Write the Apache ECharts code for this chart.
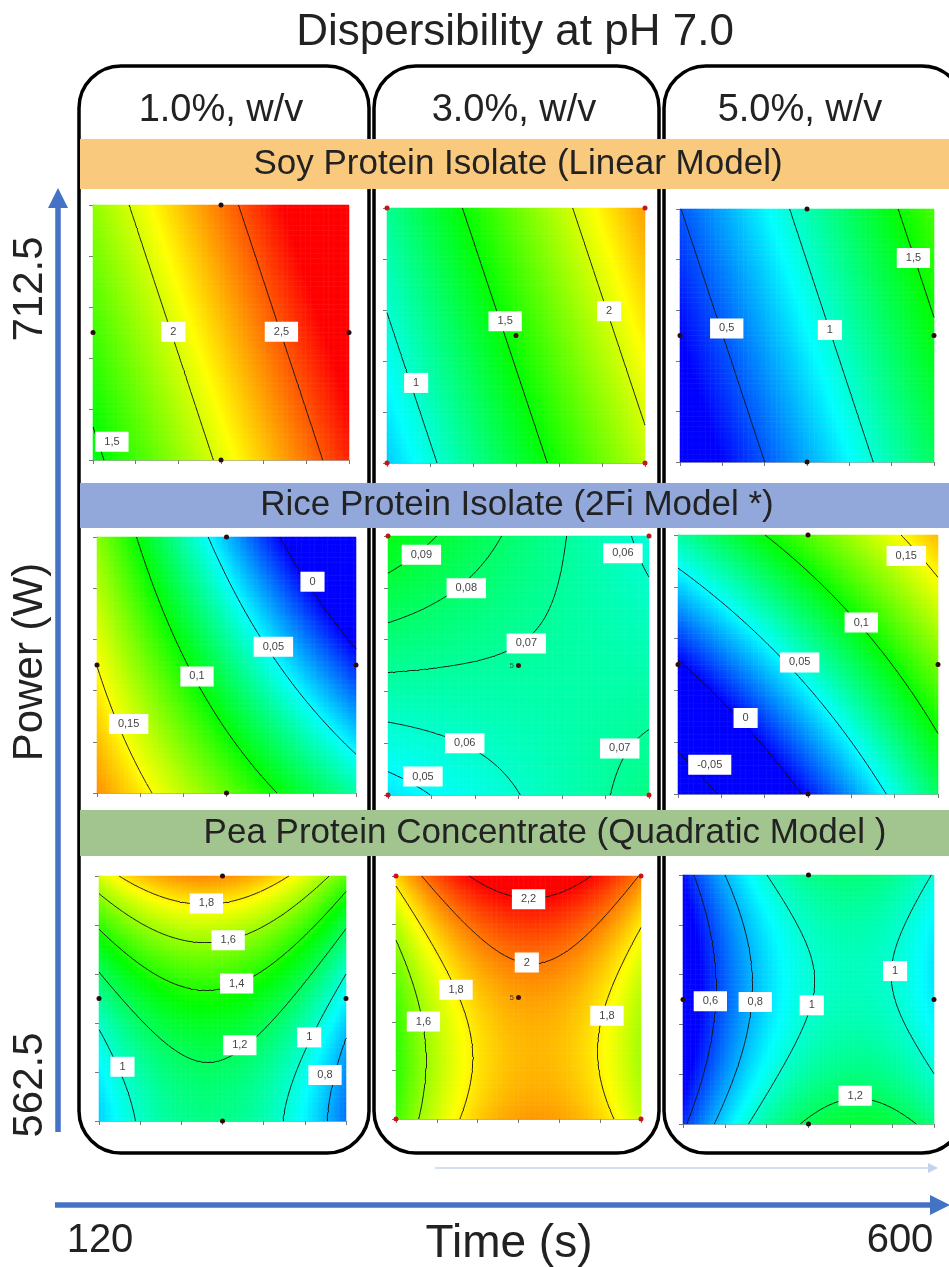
<!DOCTYPE html>
<html><head><meta charset="utf-8">
<script src="https://cdn.jsdelivr.net/npm/echarts@6/dist/echarts.min.js"></script>
<style>html,body{margin:0;padding:0;background:#fff}#c{width:949px;height:1267px}</style>
</head><body><div id="c"></div>
<script>
// ---------------- DATA ----------------
const chartTitle = 'Dispersibility at pH 7.0';
const concentrations = ['1.0%, w/v', '3.0%, w/v', '5.0%, w/v'];
const proteins = ['Soy Protein Isolate (Linear Model)', 'Rice Protein Isolate (2Fi Model *)', 'Pea Protein Concentrate (Quadratic Model )'];
const timeRange = [120, 600];      // s
const powerRange = [562.5, 712.5]; // W
const timeEndLabels = ['120', '600'];
const powerEndLabels = ['562.5', '712.5'];
const xTitle = 'Time (s)';
const yTitle = 'Power (W)';

// fitted model coefficients in coded units (A = time, B = power, both -1..1)
// [b0, A, B, AB, A^2, B^2]
const soy1 = [2.2275, 0.585, 0.1925, 0, 0, 0];
const soy3 = [1.5505, 0.585, 0.1925, 0, 0, 0];
const soy5 = [0.8875, 0.585, 0.1925, 0, 0, 0];
const rice1 = [0.0787, -0.0711, -0.0415, -0.0193, 0, 0];
const rice3 = [0.0686, -0.0028, 0.0088, -0.0173, 0, 0];
const rice5 = [0.0598, 0.0623, 0.0560, -0.0145, 0, 0];
const pea1 = [1.365, -0.093, 0.419, -0.015, -0.360, 0.178];
const pea3 = [1.932, 0.0915, 0.175, -0.0205, -0.373, 0.182];
const pea5 = [0.992, 0.2615, -0.0515, -0.0265, -0.363, 0.177];

// contour levels
const soy1Levels = [1.5, 2, 2.5];
const soy3Levels = [1, 1.5, 2];
const soy5Levels = [0.5, 1, 1.5];
const rice1Levels = [0, 0.05, 0.1, 0.15];
const rice3Levels = [0.05, 0.06, 0.07, 0.08, 0.09];
const rice5Levels = [-0.05, 0, 0.05, 0.1, 0.15];
const pea1Levels = [0.8, 1, 1.2, 1.4, 1.6, 1.8];
const pea3Levels = [1.6, 1.8, 2, 2.2];
const pea5Levels = [0.6, 0.8, 1, 1.2];

// contour labels: [time s, power W, text]
const soy1Labels = [[270.7, 637.9, '2'], [473.3, 637.9, '2,5'], [155.5, 573.3, '1,5']];
const soy3Labels = [[174.2, 609.6, '1'], [339.8, 645.9, '1,5'], [533.3, 651.8, '2']];
const soy5Labels = [[208.3, 641.7, '0,5'], [403.2, 640.8, '1'], [561.1, 683.4, '1,5']];
const rice1Labels = [[519.4, 686.3, '0'], [446.9, 648.2, '0,05'], [305.3, 630.8, '0,1'], [178.6, 602.9, '0,15']];
const rice3Labels = [[181.4, 701.6, '0,09'], [264.0, 682.2, '0,08'], [374.4, 650.3, '0,07'], [552.0, 702.5, '0,06'], [261.1, 592.4, '0,06'], [546.2, 589.5, '0,07'], [184.3, 573.2, '0,05']];
const rice5Labels = [[541.4, 700.4, '0,15'], [458.4, 661.8, '0,1'], [344.6, 638.7, '0,05'], [244.8, 606.5, '0'], [178.6, 579.5, '-0,05']];
const pea1Labels = [[328.8, 695.7, '1,8'], [371.0, 673.2, '1,6'], [387.4, 646.7, '1,4'], [393.6, 608.9, '1,2'], [165.6, 595.7, '1'], [528.5, 613.7, '1'], [559.2, 590.6, '0,8']];
const pea3Labels = [[379.7, 698.1, '2,2'], [376.3, 659.1, '2'], [237.6, 642.3, '1,8'], [173.8, 622.7, '1,6'], [533.3, 626.3, '1,8']];
const pea5Labels = [[172.3, 636.5, '0,6'], [258.2, 636.0, '0,8'], [366.2, 634.0, '1'], [525.6, 654.6, '1'], [449.3, 579.5, '1,2']];

// design points
const edgePoints = [[360, 712.5], [120, 637.5], [600, 637.5], [360, 562.5]];
const cornerPoints = [[120, 562.5], [120, 712.5], [600, 562.5], [600, 712.5]];
const centerPoint = [[360, 637.5]];
const centerReplicates = '5';

// colour scale ranges per protein row
const soyColorRange = [0.3, 2.7];
const riceColorRange = [0, 0.2];
const peaColorRange = [0.5, 2.2];
const colorScale = ['#0000ff', '#00ffff', '#00ff00', '#ffff00', '#ff0000'];

// ---------------- LAYOUT / BUILD ----------------
const FONT = 'Liberation Sans, Arial, sans-serif';
const panels = [
  {m: soy1, lv: soy1Levels, lb: soy1Labels, col: 0}, {m: soy3, lv: soy3Levels, lb: soy3Labels, col: 1}, {m: soy5, lv: soy5Levels, lb: soy5Labels, col: 2},
  {m: rice1, lv: rice1Levels, lb: rice1Labels, col: 0}, {m: rice3, lv: rice3Levels, lb: rice3Labels, col: 1, five: true}, {m: rice5, lv: rice5Levels, lb: rice5Labels, col: 2},
  {m: pea1, lv: pea1Levels, lb: pea1Labels, col: 0}, {m: pea3, lv: pea3Levels, lb: pea3Labels, col: 1, five: true}, {m: pea5, lv: pea5Levels, lb: pea5Labels, col: 2}
];
const rects = [[93,205,256,255],[387,208,258,255],[680,209,254,253],
               [97,537,259,256],[388,536,261,259],[678,535,260,259],
               [99,876,247,245],[396,876,245,243],[683,875,251,249]];
const N = 100;  // heat cells per side
const M = 110;  // contour grid per side
const tSpan = timeRange[1] - timeRange[0];
const pSpan = powerRange[1] - powerRange[0];
function model(c, A, B) { return c[0] + c[1]*A + c[2]*B + c[3]*A*B + c[4]*A*A + c[5]*B*B; }
const toXY = (t, p) => [t - timeRange[0], p - powerRange[0]];

function contourSegments(c, L) {
  const vals = [];
  for (let j = 0; j <= M; j++) { const row = []; for (let i = 0; i <= M; i++) row.push(model(c, -1 + 2*i/M, -1 + 2*j/M)); vals.push(row); }
  const segs = [];
  const px = i => tSpan * i / M, py = j => pSpan * j / M;
  for (let j = 0; j < M; j++) for (let i = 0; i < M; i++) {
    const v0 = vals[j][i], v1 = vals[j][i+1], v2 = vals[j+1][i+1], v3 = vals[j+1][i];
    const corners = [[i,j,v0],[i+1,j,v1],[i+1,j+1,v2],[i,j+1,v3]];
    const pts = [];
    for (let e = 0; e < 4; e++) {
      const a = corners[e], b = corners[(e+1)%4];
      if ((a[2] > L) !== (b[2] > L)) {
        const f = (L - a[2]) / (b[2] - a[2]);
        pts.push([px(a[0] + f*(b[0]-a[0])), py(a[1] + f*(b[1]-a[1]))]);
      } else pts.push(null);
    }
    const idx = [0,1,2,3].filter(e => pts[e]);
    if (idx.length === 2) segs.push({coords: [pts[idx[0]], pts[idx[1]]]});
    else if (idx.length === 4) {
      const cen = (v0+v1+v2+v3)/4;
      if ((cen > L) === (v0 > L)) { segs.push({coords:[pts[0],pts[1]]}); segs.push({coords:[pts[2],pts[3]]}); }
      else { segs.push({coords:[pts[3],pts[0]]}); segs.push({coords:[pts[1],pts[2]]}); }
    }
  }
  return segs;
}

const grids = [], xAxes = [], yAxes = [], heatSeries = [], otherSeries = [];
const cats = Array.from({length: N}, (_, i) => i);
panels.forEach((p, k) => {
  const [l, t, w, h] = rects[k];
  grids.push({left: l, top: t, width: w, height: h});
  xAxes.push({gridIndex: k, type: 'value', min: 0, max: tSpan, interval: tSpan/6,
    axisLabel: {show: false}, splitLine: {show: false},
    axisTick: {show: true, length: 4, lineStyle: {color: '#777'}},
    axisLine: {show: true, lineStyle: {color: '#aaa', width: 1}}});
  yAxes.push({gridIndex: k, type: 'value', min: 0, max: pSpan, interval: pSpan/5,
    axisLabel: {show: false}, splitLine: {show: false},
    axisTick: {show: true, length: 4, lineStyle: {color: '#777'}},
    axisLine: {show: true, lineStyle: {color: '#aaa', width: 1}}});
});
panels.forEach((p, k) => {
  const [l, t, w, h] = rects[k];
  grids.push({left: l, top: t, width: w, height: h});
  xAxes.push({gridIndex: 9 + k, type: 'category', data: cats, show: false});
  yAxes.push({gridIndex: 9 + k, type: 'category', data: cats, show: false});
  const hm = [];
  for (let j = 0; j < N; j++) for (let i = 0; i < N; i++)
    hm.push([i, j, model(p.m, 2*(i+0.5)/N - 1, 2*(j+0.5)/N - 1)]);
  heatSeries.push({type: 'heatmap', xAxisIndex: 9 + k, yAxisIndex: 9 + k, data: hm, progressive: 0,
    silent: true, itemStyle: {borderWidth: 0}, emphasis: {disabled: true}, z: 1});
});
panels.forEach((p, k) => {
  let segs = [];
  p.lv.forEach(L => { segs = segs.concat(contourSegments(p.m, L)); });
  otherSeries.push({type: 'lines', coordinateSystem: 'cartesian2d', xAxisIndex: k, yAxisIndex: k,
    data: segs, silent: true, z: 3, lineStyle: {color: '#141414', width: 1, opacity: 0.95, curveness: 0}});
  const pts = p.col === 1 ? cornerPoints.map(q => ({value: toXY(q[0], q[1]), itemStyle: {color: '#c81414'}}))
                            .concat(centerPoint.map(q => ({value: toXY(q[0], q[1]), itemStyle: {color: '#3a1010'}})))
                          : edgePoints.map(q => ({value: toXY(q[0], q[1]), itemStyle: {color: '#2a0c0c'}}));
  otherSeries.push({type: 'scatter', xAxisIndex: k, yAxisIndex: k, data: pts, symbolSize: 5, silent: true, z: 4, clip: false,
    itemStyle: {opacity: 1}});
  if (p.five) {
    otherSeries.push({type: 'scatter', xAxisIndex: k, yAxisIndex: k, silent: true, z: 4,
      data: centerPoint.map(q => ({value: toXY(q[0], q[1]), name: centerReplicates})), symbolSize: 1,
      itemStyle: {color: '#3a1010', opacity: 1},
      label: {show: true, position: 'left', distance: 4, formatter: '{b}', fontSize: 8, color: '#444', fontFamily: FONT}});
  }
  otherSeries.push({type: 'scatter', xAxisIndex: k, yAxisIndex: k, silent: true, z: 5, symbol: 'rect', symbolSize: 1,
    itemStyle: {color: '#ffffff', opacity: 1},
    data: p.lb.map(q => ({value: toXY(q[0], q[1]), name: q[2]})),
    label: {show: true, position: 'inside', formatter: '{b}', backgroundColor: '#ffffff', padding: [5, 9, 4, 9],
      fontSize: 11, color: '#444', fontFamily: FONT}});
});

const visualMaps = [soyColorRange, riceColorRange, peaColorRange].map((r, row) => ({
  type: 'continuous', show: false, min: r[0], max: r[1], dimension: 2,
  seriesIndex: [row*3, row*3 + 1, row*3 + 2], inRange: {color: colorScale}
}));

const blue = '#4472c4';
const graphics = [];
[[79,66,290,1087],[374,66,285,1087],[664,66,300,1087]].forEach(([x, y, w, h]) => graphics.push(
  {type: 'rect', shape: {x: x, y: y, width: w, height: h, r: 42}, style: {fill: 'none', stroke: '#000', lineWidth: 3.5}, z: 0, silent: true}));
const bands = [[139, 50, '#f9c97e', 164, 518], [483, 45, '#93a8da', 505, 517], [810, 46, '#a2c48f', 833, 545]];
bands.forEach((b, i) => {
  graphics.push({type: 'rect', shape: {x: 80, y: b[0], width: 880, height: b[1]}, style: {fill: b[2]}, z: 1, silent: true});
  graphics.push({type: 'text', x: b[4], y: b[3], style: {text: proteins[i], fontSize: 35, fontFamily: FONT, fill: '#222', align: 'center', verticalAlign: 'middle'}, z: 2, silent: true});
});
graphics.push({type: 'text', x: 515, y: 33, style: {text: chartTitle, fontSize: 44, fontFamily: FONT, fill: '#222', align: 'center', verticalAlign: 'middle'}, z: 2});
[221, 514, 800].forEach((cx, i) => graphics.push({type: 'text', x: cx, y: 111, style: {text: concentrations[i], fontSize: 38, fontFamily: FONT, fill: '#222', align: 'center', verticalAlign: 'middle'}, z: 2}));
// axes arrows
graphics.push({type: 'line', shape: {x1: 55, y1: 1205, x2: 935, y2: 1205}, style: {stroke: blue, lineWidth: 5.5}, z: 1});
graphics.push({type: 'polygon', shape: {points: [[930, 1195], [950, 1205], [930, 1215]]}, style: {fill: blue}, z: 1});
graphics.push({type: 'line', shape: {x1: 435, y1: 1168, x2: 930, y2: 1168}, style: {stroke: '#d6dff1', lineWidth: 2}, z: 1});
graphics.push({type: 'polygon', shape: {points: [[928, 1163], [938, 1168], [928, 1173]]}, style: {fill: '#c5d2ee'}, z: 1});
graphics.push({type: 'line', shape: {x1: 58, y1: 1132, x2: 58, y2: 205}, style: {stroke: blue, lineWidth: 5.5}, z: 1});
graphics.push({type: 'polygon', shape: {points: [[48, 208], [58, 188], [68, 208]]}, style: {fill: blue}, z: 1});
graphics.push({type: 'text', x: 100, y: 1241, style: {text: timeEndLabels[0], fontSize: 40, fontFamily: FONT, fill: '#222', align: 'center', verticalAlign: 'middle'}});
graphics.push({type: 'text', x: 900, y: 1241, style: {text: timeEndLabels[1], fontSize: 40, fontFamily: FONT, fill: '#222', align: 'center', verticalAlign: 'middle'}});
graphics.push({type: 'text', x: 509, y: 1244, style: {text: xTitle, fontSize: 46, fontFamily: FONT, fill: '#222', align: 'center', verticalAlign: 'middle'}});
[[powerEndLabels[1], 289], [yTitle, 662], [powerEndLabels[0], 1085]].forEach(([txt, cy]) => graphics.push(
  {type: 'text', x: 30, y: cy, rotation: Math.PI/2, style: {text: txt, fontSize: 42, fontFamily: FONT, fill: '#222', align: 'center', verticalAlign: 'middle'}}));

const chart = echarts.init(document.getElementById('c'), null, {renderer: 'canvas'});
chart.setOption({
  animation: false,
  backgroundColor: '#fff',
  grid: grids, xAxis: xAxes, yAxis: yAxes,
  visualMap: visualMaps,
  series: heatSeries.concat(otherSeries),
  graphic: {elements: graphics}
});
</script></body></html>
